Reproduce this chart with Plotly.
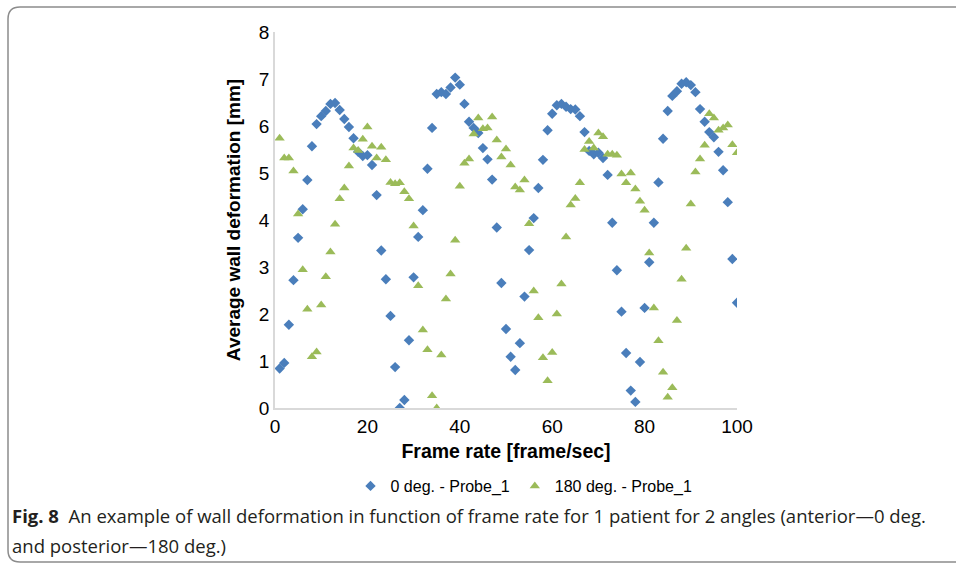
import plotly.graph_objects as go

frame = list(range(1, 101))

deg0 = [0.84, 0.96, 1.77, 2.72, 3.62, 4.23, 4.85, 5.57, 6.04, 6.21,
        6.32, 6.47, 6.49, 6.34, 6.15, 5.98, 5.74, 5.45, 5.36, 5.38,
        5.17, 4.53, 3.35, 2.74, 1.96, 0.87, 0.0, 0.17, 1.44, 2.78,
        3.64, 4.21, 5.09, 5.96, 6.68, 6.72, 6.68, 6.82, 7.03, 6.88,
        6.47, 6.09, 5.96, 5.85, 5.53, 5.29, 4.86, 3.84, 2.66, 1.68,
        1.09, 0.81, 1.38, 2.37, 3.36, 4.04, 4.68, 5.28, 5.91, 6.26,
        6.44, 6.47, 6.41, 6.36, 6.35, 6.21, 5.87, 5.47, 5.40, 5.43,
        5.32, 4.96, 3.94, 2.93, 2.05, 1.17, 0.37, 0.13, 0.98, 2.13,
        3.10, 3.94, 4.80, 5.73, 6.32, 6.64, 6.74, 6.90, 6.93, 6.87,
        6.72, 6.36, 6.09, 5.87, 5.76, 5.45, 5.06, 4.38, 3.17, 2.24]

deg180 = [5.74, 5.32, 5.32, 5.04, 4.13, 2.94, 2.10, 1.09, 1.19, 2.19,
          2.79, 3.32, 3.91, 4.45, 4.68, 5.15, 5.53, 5.48, 5.72, 5.98,
          5.57, 5.32, 5.55, 5.28, 4.80, 4.77, 4.79, 4.60, 4.45, 3.87,
          2.60, 1.66, 1.24, 0.26, 0.0, 1.13, 2.32, 2.85, 3.57, 4.72,
          5.21, 5.30, 5.83, 6.17, 5.94, 5.96, 6.19, 5.70, 5.34, 5.51,
          5.17, 4.70, 4.64, 4.85, 3.92, 2.49, 1.92, 1.07, 0.58, 1.18,
          2.00, 2.64, 3.64, 4.32, 4.46, 4.79, 5.50, 5.67, 5.53, 5.85,
          5.77, 5.40, 5.40, 5.38, 4.98, 4.79, 5.00, 4.66, 4.40, 4.21,
          3.30, 2.13, 1.43, 0.76, 0.23, 0.43, 1.86, 2.74, 3.40, 4.34,
          5.02, 5.30, 5.59, 6.26, 6.17, 5.91, 5.96, 6.02, 5.60, 5.43]

x_ticks = [0, 20, 40, 60, 80, 100]
y_ticks = [0, 1, 2, 3, 4, 5, 6, 7, 8]

BLUE = "#4a7ebb"
GREEN = "#9bbb59"

fig = go.Figure()
fig.add_trace(go.Scatter(x=frame, y=deg0, mode="markers", name="0 deg. - Probe_1",
                         marker=dict(symbol="diamond", size=8, color=BLUE)))
fig.add_trace(go.Scatter(x=frame, y=deg180, mode="markers", name="180 deg. - Probe_1",
                         marker=dict(symbol="triangle-up", size=9, color=GREEN)))

W, H = 956, 566
L, R, T, B = 275, 737, 32, 408


def px(x):
    return (x - L) / (R - L)


def py(y):
    return (B - y) / (B - T)


# rounded border around the figure (open on the right, like the cropped original)
x0, y0, x1, y1, r = 8, 7, 960, 562, 12
path = (f"M {px(x0 + r)},{py(y0)} L {px(x1)},{py(y0)} "
        f"M {px(x0 + r)},{py(y0)} Q {px(x0)},{py(y0)} {px(x0)},{py(y0 + r)} "
        f"L {px(x0)},{py(y1 - r)} Q {px(x0)},{py(y1)} {px(x0 + r)},{py(y1)} L {px(x1)},{py(y1)}")

fig.update_layout(
    width=W, height=H,
    margin=dict(l=L, r=W - R, t=T, b=H - B),
    paper_bgcolor="white", plot_bgcolor="white",
    font=dict(family="Liberation Sans, Arial", size=18, color="#000"),
    showlegend=True,
    legend=dict(orientation="h", x=px(524), xanchor="center", y=py(486), yanchor="middle",
                font=dict(size=16, family="Liberation Sans, Arial"), itemwidth=30,
                tracegroupgap=0),
    xaxis=dict(range=[0, 100], tickvals=x_ticks, showgrid=False, zeroline=False,
               showline=True, linecolor="#d9d9d9", linewidth=1.5, ticks="",
               tickfont=dict(size=19),
               title=dict(text="<b>Frame rate [frame/sec]</b>", font=dict(size=19.5), standoff=9)),
    yaxis=dict(range=[0, 8], tickvals=y_ticks, showgrid=False, zeroline=False,
               showline=True, linecolor="#d9d9d9", linewidth=1.5, ticks="",
               tickfont=dict(size=19),
               title=dict(text="<b>Average wall deformation [mm]</b>", font=dict(size=19), standoff=13)),
    shapes=[dict(type="path", xref="paper", yref="paper", path=path,
                 line=dict(color="#8c8c8c", width=1.5))],
    annotations=[
        dict(xref="paper", yref="paper", x=px(10), y=py(515), xanchor="left", yanchor="middle",
             showarrow=False, align="left",
             text="<b>Fig. 8</b>  An example of wall deformation in function of frame rate for 1 patient for 2 angles (anterior\u20140 deg.",
             font=dict(family="Open Sans", size=18.5, color="#231f20")),
        dict(xref="paper", yref="paper", x=px(10), y=py(545), xanchor="left", yanchor="middle",
             showarrow=False, align="left",
             text="and posterior\u2014180 deg.)",
             font=dict(family="Open Sans", size=18.5, color="#231f20")),
    ],
)

fig.write_html("out.html", config={"displayModeBar": False},
               post_script="document.body.style.margin='0';document.body.style.padding='0';")
